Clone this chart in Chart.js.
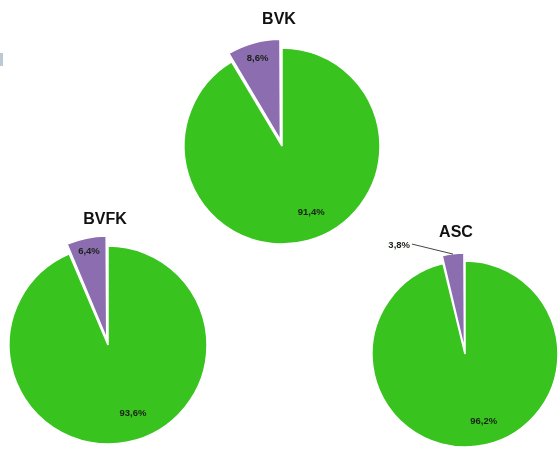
<!DOCTYPE html>
<html>
<head>
<meta charset="utf-8">
<script src="https://cdn.jsdelivr.net/npm/chart.js@4.4.0/dist/chart.umd.min.js"></script>
<style>
  html, body { margin: 0; padding: 0; background: #fff; }
  #wrap { position: relative; width: 558px; height: 450px; overflow: hidden; }
  #wrap canvas { position: absolute; left: 0; top: 0; }
  .mark { position: absolute; left: 0; top: 53px; width: 3px; height: 13px; background: #b9c9d6; }
</style>
</head>
<body>
<div id="wrap">
  <div class="mark"></div>
  <canvas id="bvk" width="558" height="450"></canvas>
  <canvas id="bvfk" width="558" height="450"></canvas>
  <canvas id="asc" width="558" height="450"></canvas>
</div>
<script>
// data
const categories = ['Categoria 1', 'Categoria 2'];
const bvkValues = [91.4, 8.6];
const bvfkValues = [93.6, 6.4];
const ascValues = [96.2, 3.8];

const W = 558, H = 450;
const colors = ['#38c31e', '#8c6daf'];

// pie placement (pixels), title placement relative to pie centre
const pies = [
  { id: 'bvk', title: 'BVK', values: bvkValues, cx: 282, cy: 146, r: 98, offset: 24,
    titleDx: -3, titleDy: -126, outFrac: [0.74, 0.87] },
  { id: 'bvfk', title: 'BVFK', values: bvfkValues, cx: 108, cy: 345, r: 99, offset: 25,
    titleDx: -3, titleDy: -125, outFrac: [0.74, 0.9] },
  { id: 'asc', title: 'ASC', values: ascValues, cx: 465, cy: 354, r: 93, offset: 18,
    titleDx: -9, titleDy: -121, outFrac: [0.75, 0.9], outside: { index: 1, dx: -41, dy: -10 } }
];

function fmt(v) {
  return v.toFixed(1).replace('.', ',') + '%';
}

// title + percentage labels drawn on top of the arcs
const sliceLabels = {
  id: 'sliceLabels',
  afterDatasetsDraw(chart, args, opts) {
    const ctx = chart.ctx;
    const meta = chart.getDatasetMeta(0);
    const values = chart.data.datasets[0].data;
    ctx.save();
    ctx.textAlign = 'center';
    ctx.textBaseline = 'middle';
    meta.data.forEach((arc, i) => {
      const p = arc.getProps(['x', 'y', 'startAngle', 'endAngle', 'outerRadius'], true);
      const shift = (arc.options.offset || 0) / 4;
      const mid = (p.startAngle + p.endAngle) / 2;
      ctx.font = 'bold 9.5px "Liberation Sans", Arial, sans-serif';
      ctx.fillStyle = '#1a2218';
      if (opts.outside && opts.outside.index === i) {
        const d = p.outerRadius + shift * 1.7;
        const ax = p.x + Math.cos(mid) * d;
        const ay = p.y + Math.sin(mid) * d;
        const bx = ax + opts.outside.dx;
        const by = ay + opts.outside.dy;
        ctx.strokeStyle = '#444';
        ctx.lineWidth = 1;
        ctx.beginPath();
        ctx.moveTo(ax, ay);
        ctx.lineTo(bx, by);
        ctx.stroke();
        ctx.textAlign = 'right';
        ctx.fillText(fmt(values[i]), bx - 2, by + 1);
        ctx.textAlign = 'center';
        return;
      }
      // green labels sit a little before the middle of the slice
      const ratio = i === 0 ? 0.475 : 0.5;
      const a = p.startAngle + (p.endAngle - p.startAngle) * ratio;
      const d = p.outerRadius * opts.outFrac[i] + shift;
      ctx.fillText(fmt(values[i]), p.x + Math.cos(a) * d, p.y + Math.sin(a) * d);
    });
    const c = meta.data[0];
    ctx.font = 'bold 16px "Liberation Sans", Arial, sans-serif';
    ctx.fillStyle = '#111';
    ctx.fillText(opts.title, c.x + opts.titleDx, c.y + opts.titleDy);
    ctx.restore();
  }
};

pies.forEach(pie => {
  const s = Math.min(pie.r, pie.cx, W - pie.cx, pie.cy, H - pie.cy);
  new Chart(document.getElementById(pie.id), {
    type: 'pie',
    data: {
      labels: categories,
      datasets: [{
        data: pie.values,
        backgroundColor: colors,
        borderColor: '#ffffff',
        borderWidth: 1.5,
        offset: [0, pie.offset],
        clip: false
      }]
    },
    options: {
      responsive: false,
      animation: false,
      radius: pie.r,
      layout: {
        padding: {
          left: pie.cx - s,
          right: W - pie.cx - s,
          top: pie.cy - s,
          bottom: H - pie.cy - s
        }
      },
      plugins: {
        legend: { display: false },
        tooltip: { enabled: false },
        sliceLabels: {
          title: pie.title,
          titleDx: pie.titleDx,
          titleDy: pie.titleDy,
          outFrac: pie.outFrac,
          outside: pie.outside
        }
      }
    },
    plugins: [sliceLabels]
  });
});
</script>
</body>
</html>
